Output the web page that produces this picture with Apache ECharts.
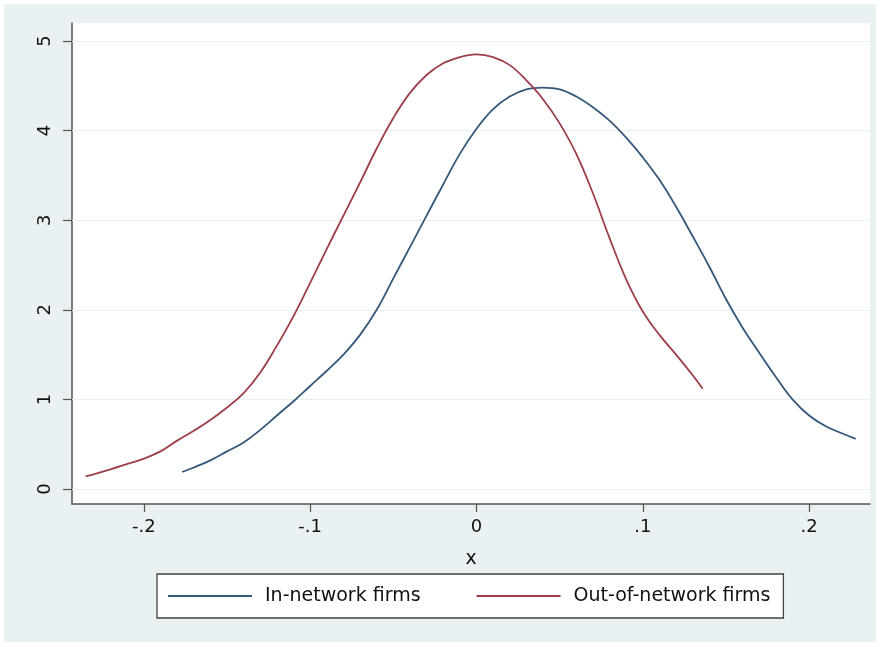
<!DOCTYPE html>
<html>
<head>
<meta charset="utf-8">
<script src="https://cdn.jsdelivr.net/npm/echarts@6/dist/echarts.min.js"></script>
<style>
html,body{margin:0;padding:0;background:#fff;}
#chart{width:883px;height:647px;}
</style>
</head>
<body>
<div id="chart"></div>
<script>
// ---- data ----
const seriesNames = ['In-network firms', 'Out-of-network firms'];

const inNetworkX = [-0.177,-0.17,-0.16,-0.15,-0.14,-0.13,-0.12,-0.11,-0.10,-0.09,-0.08,-0.07,-0.06,-0.05,-0.04,-0.03,-0.02,-0.01,0.00,0.01,0.02,0.03,0.04,0.05,0.06,0.07,0.08,0.09,0.10,0.11,0.12,0.13,0.14,0.15,0.16,0.17,0.18,0.19,0.20,0.21,0.22,0.228];
const inNetworkY = [0.19,0.24,0.32,0.42,0.52,0.66,0.82,0.98,1.15,1.32,1.50,1.72,2.00,2.35,2.70,3.05,3.40,3.74,4.02,4.24,4.38,4.46,4.48,4.46,4.38,4.26,4.11,3.92,3.70,3.45,3.15,2.82,2.48,2.12,1.80,1.52,1.25,1.00,0.82,0.70,0.62,0.56];

const outNetworkX = [-0.235,-0.22,-0.21,-0.20,-0.19,-0.18,-0.17,-0.16,-0.15,-0.14,-0.13,-0.12,-0.11,-0.10,-0.09,-0.08,-0.07,-0.06,-0.05,-0.04,-0.03,-0.02,-0.01,0.00,0.01,0.02,0.03,0.04,0.05,0.06,0.07,0.08,0.09,0.10,0.11,0.12,0.13,0.136];
const outNetworkY = [0.14,0.22,0.28,0.34,0.42,0.54,0.65,0.77,0.91,1.07,1.30,1.60,1.93,2.30,2.68,3.05,3.42,3.80,4.14,4.42,4.62,4.75,4.82,4.85,4.82,4.73,4.56,4.35,4.08,3.74,3.30,2.80,2.34,1.98,1.72,1.50,1.27,1.12];

const xTickValues = [-0.2, -0.1, 0, 0.1, 0.2];
const xTickLabels = ['-.2', '-.1', '0', '.1', '.2'];
const yTickValues = [0, 1, 2, 3, 4, 5];
const yTickLabels = ['0', '1', '2', '3', '4', '5'];
const xAxisTitle = 'x';

// ---- chart ----
const pairs = (xs, ys) => xs.map((x, i) => [x, ys[i]]);
const FONT = 'DejaVu Sans';
const BLUE = '#33587a';
const RED = '#9c3f49';
const chart = echarts.init(document.getElementById('chart'), null, {renderer: 'canvas'});

chart.setOption({
  backgroundColor: '#ffffff',
  animation: false,
  textStyle: {fontFamily: FONT},
  graphic: [{
    type: 'rect', z: -10, silent: true,
    shape: {x: 4, y: 4, width: 872, height: 638},
    style: {fill: '#eaf1f3'}
  }],
  grid: {
    left: 72, right: 13, top: 23, bottom: 143,
    show: true, backgroundColor: '#ffffff', borderWidth: 0
  },
  xAxis: {
    type: 'value', min: -0.2432, max: 0.2366,
    name: xAxisTitle, nameLocation: 'middle', nameGap: 46,
    nameTextStyle: {fontSize: 19, color: '#111', fontFamily: FONT},
    axisLine: {show: true, onZero: false, lineStyle: {color: '#555', width: 1.5}},
    axisTick: {show: true, length: 8, customValues: xTickValues, lineStyle: {color: '#555', width: 1.2}},
    axisLabel: {
      customValues: xTickValues, margin: 14, fontSize: 18, color: '#111', fontFamily: FONT,
      formatter: v => { const i = xTickValues.findIndex(t => Math.abs(t - v) < 1e-9); return i >= 0 ? xTickLabels[i] : ''; }
    },
    splitLine: {show: false}
  },
  yAxis: {
    type: 'value', min: -0.167, max: 5.2,
    axisLine: {show: true, onZero: false, lineStyle: {color: '#555', width: 1.5}},
    axisTick: {show: true, length: 9, customValues: yTickValues, lineStyle: {color: '#555', width: 1.2}},
    axisLabel: {
      customValues: yTickValues, rotate: 90, margin: 18, fontSize: 18, color: '#111', fontFamily: FONT,
      formatter: v => { const i = yTickValues.findIndex(t => Math.abs(t - v) < 1e-9); return i >= 0 ? yTickLabels[i] : ''; }
    },
    splitLine: {show: false}
  },
  legend: {
    show: true, orient: 'horizontal', left: 157, top: 574,
    padding: [12, 13, 12, 11],
    icon: 'rect',
    itemWidth: 84, itemHeight: 2, itemGap: 56,
    backgroundColor: '#ffffff', borderColor: '#444', borderWidth: 1.3, borderRadius: 0,
    textStyle: {fontSize: 19, lineHeight: 20, color: '#111', fontFamily: FONT, padding: [0, 0, 0, 8]},
    data: seriesNames
  },
  series: [
    {
      name: seriesNames[0], type: 'line', smooth: 0.4, symbol: 'none', showSymbol: false,
      data: pairs(inNetworkX, inNetworkY),
      lineStyle: {color: BLUE, width: 1.8}, itemStyle: {color: BLUE},
      markLine: {
        silent: true, symbol: 'none', label: {show: false}, z: 1,
        lineStyle: {color: '#e9f0f2', width: 1.2, type: 'solid'},
        data: yTickValues.map(v => ({yAxis: v}))
      },
      z: 3
    },
    {
      name: seriesNames[1], type: 'line', smooth: 0.4, symbol: 'none', showSymbol: false,
      data: pairs(outNetworkX, outNetworkY),
      lineStyle: {color: RED, width: 1.8}, itemStyle: {color: RED},
      z: 3
    }
  ]
});
</script>
</body>
</html>
